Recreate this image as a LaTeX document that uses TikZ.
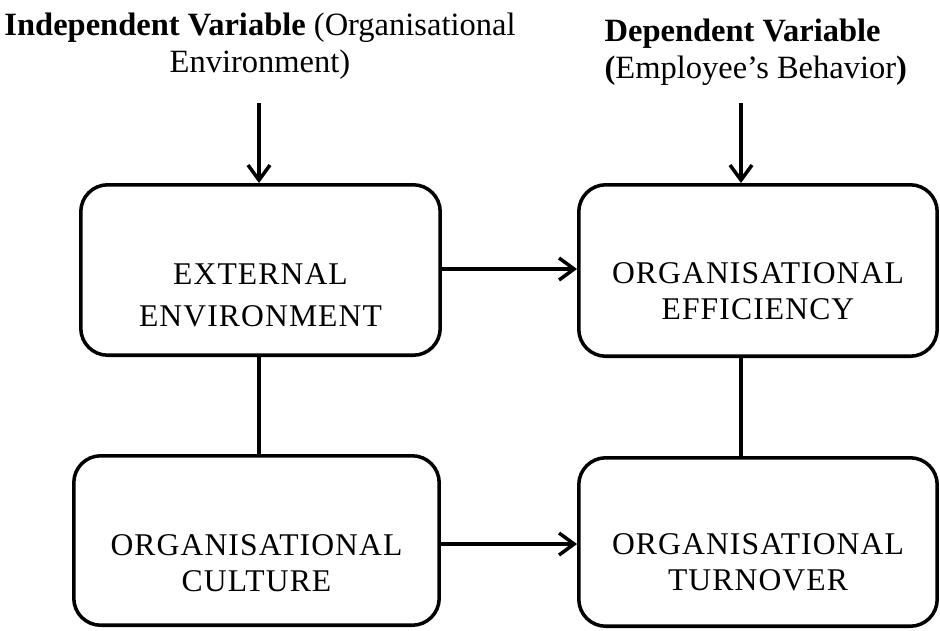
\documentclass[tikz,border=0pt]{standalone}
\usepackage{fontspec}
\setmainfont{Liberation Serif}
\newfontfamily\boxfont[LetterSpace=3.5]{Liberation Serif}
\usetikzlibrary{arrows.meta}
\newcommand\topgap[1][41pt]{\rule{0pt}{#1}}

\begin{document}
\begin{tikzpicture}[x=0.02cm, y=-0.02cm, line width=2pt,
    >={Straight Barb[length=0.3cm, width=0.44cm]},
    factor/.style={rectangle, rounded corners=0.54cm, draw, align=center,
        minimum width=7.19cm, minimum height=3.41cm,
        font=\boxfont\fontsize{18}{20.4}\selectfont},
    heading/.style={align=center, font=\fontsize{18.5}{20.8}\selectfont}]
    \useasboundingbox (0,0) rectangle (940,630);
    % headings
    \node [heading] (indep) at (260,46) {\textbf{Independent Variable} (Organisational\\Environment)};
    \node [heading, align=left, anchor=west] (dep) at (597,52) {\textbf{Dependent Variable}\\\textbf{(}Employee's Behavior\textbf{)}};
    % factors
    \node [factor, font=\boxfont\fontsize{18}{23.8}\selectfont] (ext) at (260.5,270) {\topgap EXTERNAL\\ENVIRONMENT};
    \node [factor, minimum width=7.17cm, minimum height=3.43cm] (eff) at (758,270.5) {\topgap[35pt]ORGANISATIONAL\\EFFICIENCY};
    \node [factor, minimum width=7.31cm, minimum height=3.39cm] (cult) at (256.5,540.5) {\topgap[37.5pt]ORGANISATIONAL\\CULTURE};
    \node [factor, minimum width=7.17cm, minimum height=3.37cm] (turn) at (758,542) {\topgap[35pt]ORGANISATIONAL\\TURNOVER};
    \coordinate (indep-in) at (259,103);
    \coordinate (dep-in) at (741,103);
    % connectors
    \draw [->] (indep-in) -- (indep-in |- ext.north);
    \draw [->] (dep-in) -- (dep-in |- eff.north);
    \draw [->] (ext.east |- 0,269) -- (eff.west |- 0,269);
    \draw [->] (cult.east |- 0,544) -- (turn.west |- 0,544);
    \draw (indep-in |- ext.south) -- (indep-in |- cult.north);
    \draw (dep-in |- eff.south) -- (dep-in |- turn.north);
\end{tikzpicture}
\end{document}
